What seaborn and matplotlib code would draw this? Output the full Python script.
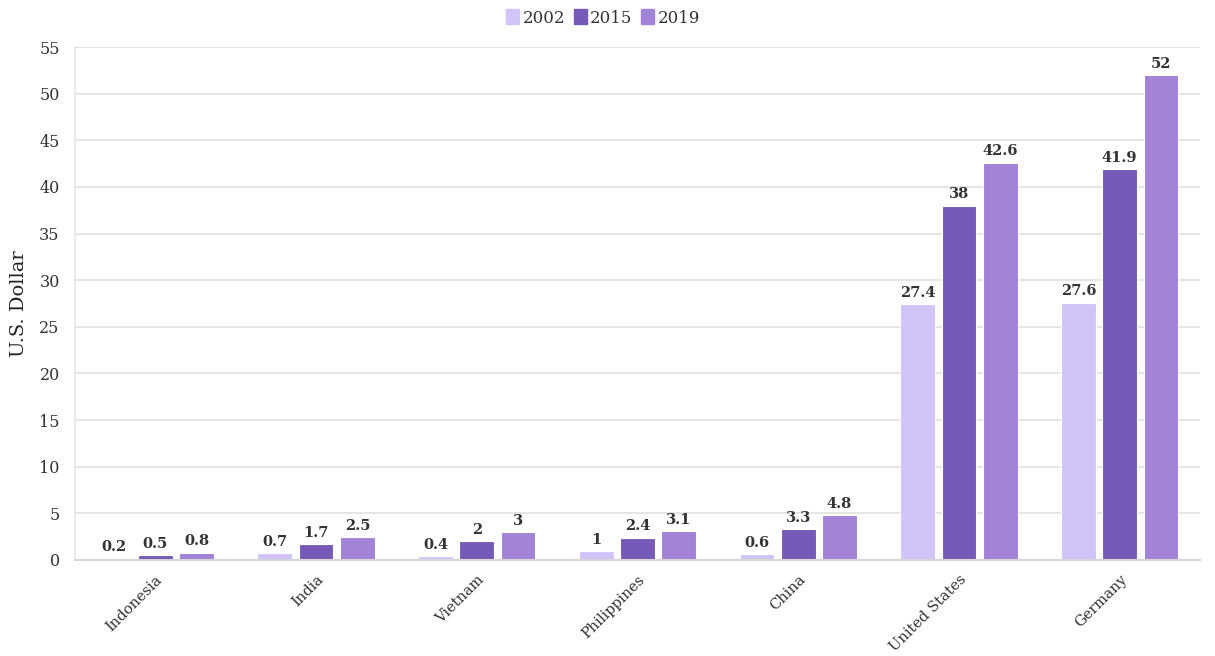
import matplotlib
matplotlib.use("Agg")
import matplotlib.pyplot as plt
import seaborn as sns
import pandas as pd
from matplotlib.patches import Patch

countries = ["Indonesia", "India", "Vietnam", "Philippines", "China", "United States", "Germany"]
years = ["2002", "2015", "2019"]
v2002 = [0.2, 0.7, 0.4, 1, 0.6, 27.4, 27.6]
v2015 = [0.5, 1.7, 2, 2.4, 3.3, 38, 41.9]
v2019 = [0.8, 2.5, 3, 3.1, 4.8, 42.6, 52]
colors = ["#d0c4f8", "#7759b9", "#a283d8"]

rows = []
for y, vals in zip(years, [v2002, v2015, v2019]):
    for c, v in zip(countries, vals):
        rows.append({"country": c, "year": y, "value": v})
df = pd.DataFrame(rows)

sns.set_style("white")
plt.rcParams["font.family"] = ["DejaVu Serif"]

fig = plt.figure(figsize=(12.15, 6.56), dpi=100)
ax = fig.add_axes([75 / 1215, 1 - 560 / 656, 1125 / 1215, 513 / 656])

sns.barplot(data=df, x="country", y="value", hue="year", palette=colors,
            width=0.77, gap=0.16, ax=ax, legend=False,
            edgecolor="white", linewidth=0.8, saturation=1)

for cont in ax.containers:
    labels = [("%g" % v) for v in cont.datavalues]
    ax.bar_label(cont, labels=labels, padding=3, fontsize=10.5,
                 fontweight="bold", color="#333333")

ax.set_ylim(0, 55)
ax.set_yticks(range(0, 56, 5))
ax.set_xlim(-0.5, len(countries) - 0.5)
ax.yaxis.grid(True, color="#e0e0e0", linewidth=1.2)
ax.set_axisbelow(True)
for s in ["top", "right"]:
    ax.spines[s].set_visible(False)
ax.spines["left"].set_color("#e6e6e6")
ax.spines["left"].set_linewidth(1.2)
ax.spines["bottom"].set_color("#d6d6d6")
ax.spines["bottom"].set_linewidth(1.5)
ax.tick_params(axis="y", length=8, width=1, color="#e0e0e0", labelsize=11.5, labelcolor="#333333", pad=3)
ax.tick_params(axis="x", length=8, width=1, color="#d6d6d6", labelsize=10.5, labelcolor="#333333", pad=1)
plt.setp(ax.get_xticklabels(), rotation=45, ha="right", rotation_mode="anchor")
ax.set_xlabel("")
ax.set_ylabel("U.S. Dollar", fontsize=14, color="#222222", labelpad=8)

handles = [Patch(facecolor=c, edgecolor=c, label=y) for c, y in zip(colors, years)]
fig.legend(handles=handles, loc="center", bbox_to_anchor=(603 / 1215, 1 - 18 / 656),
           ncol=3, frameon=False, fontsize=12, handlelength=0.8, handleheight=1.0,
           handletextpad=0.2, columnspacing=0.5, labelcolor="#333333")

fig.savefig("out.png", dpi=100)
